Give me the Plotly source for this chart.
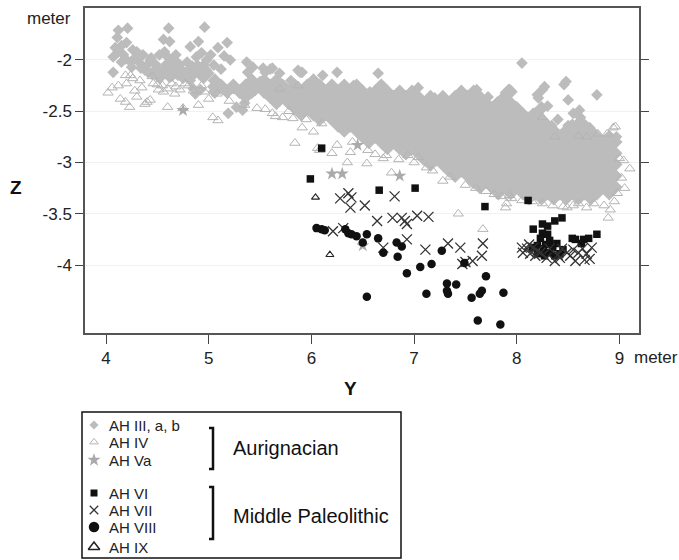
import plotly.graph_objects as go

W, H = 679, 560

# ------------------------------------------------------------------ data
# Dense AH III mass: Y of each column, Z values in it
BAND_COL_Y = [5.06, 5.12, 5.18, 5.24, 5.30, 5.36, 5.42, 5.48, 5.54, 5.60,
              5.66, 5.72, 5.78, 5.84,
              5.90, 5.96, 6.02, 6.08, 6.14, 6.20, 6.26, 6.32, 6.38, 6.44,
              6.50, 6.56, 6.62, 6.68, 6.74, 6.80, 6.86, 6.92, 6.98, 7.04,
              7.10, 7.16, 7.22, 7.28, 7.34, 7.40, 7.46, 7.52, 7.58, 7.64,
              7.70, 7.76, 7.82, 7.88, 7.94, 8.00, 8.06, 8.12, 8.18, 8.24,
              8.30, 8.36, 8.42, 8.48, 8.54, 8.60, 8.66, 8.72, 8.78, 8.84,
              8.90, 8.96]
BAND_COL_Z = [
    [-2.20, -2.31],
    [-2.25],
    [-2.31],
    [-2.25],
    [-2.31],
    [-2.25, -2.36],
    [-2.20, -2.31],
    [-2.25],
    [-2.20, -2.31],
    [-2.25, -2.36],
    [-2.20, -2.31, -2.42],
    [-2.25, -2.36],
    [-2.31, -2.42],
    [-2.25, -2.36, -2.47],
    [-2.31, -2.42, -2.53],
    [-2.25, -2.36, -2.47],
    [-2.20, -2.31, -2.42, -2.53],
    [-2.25, -2.36, -2.47, -2.58],
    [-2.31, -2.42, -2.53],
    [-2.25, -2.36, -2.47, -2.58],
    [-2.31, -2.42, -2.53, -2.64],
    [-2.25, -2.36, -2.47, -2.58, -2.69],
    [-2.31, -2.42, -2.53, -2.64],
    [-2.25, -2.36, -2.47, -2.58, -2.69],
    [-2.31, -2.42, -2.53, -2.64, -2.75],
    [-2.36, -2.47, -2.58, -2.69, -2.80],
    [-2.31, -2.42, -2.53, -2.64, -2.75],
    [-2.25, -2.36, -2.47, -2.58, -2.69, -2.80],
    [-2.31, -2.42, -2.53, -2.64, -2.75, -2.86],
    [-2.36, -2.47, -2.58, -2.69, -2.80],
    [-2.31, -2.42, -2.53, -2.64, -2.75, -2.86],
    [-2.36, -2.47, -2.58, -2.69, -2.80, -2.91],
    [-2.31, -2.42, -2.53, -2.64, -2.75, -2.86],
    [-2.36, -2.47, -2.58, -2.69, -2.80, -2.91],
    [-2.42, -2.53, -2.64, -2.75, -2.86, -2.97],
    [-2.36, -2.47, -2.58, -2.69, -2.80, -2.91, -3.02],
    [-2.42, -2.53, -2.64, -2.75, -2.86, -2.97],
    [-2.36, -2.47, -2.58, -2.69, -2.80, -2.91, -3.02],
    [-2.42, -2.53, -2.64, -2.75, -2.86, -2.97, -3.08],
    [-2.36, -2.47, -2.58, -2.69, -2.80, -2.91, -3.02, -3.13],
    [-2.31, -2.42, -2.53, -2.64, -2.75, -2.86, -2.97, -3.08],
    [-2.36, -2.47, -2.58, -2.69, -2.80, -2.91, -3.02, -3.13],
    [-2.31, -2.42, -2.53, -2.64, -2.75, -2.86, -2.97, -3.08, -3.19],
    [-2.36, -2.47, -2.58, -2.69, -2.80, -2.91, -3.02, -3.13, -3.24],
    [-2.42, -2.53, -2.64, -2.75, -2.86, -2.97, -3.08, -3.19],
    [-2.47, -2.58, -2.69, -2.80, -2.91, -3.02, -3.13, -3.24],
    [-2.42, -2.53, -2.64, -2.75, -2.86, -2.97, -3.08, -3.19, -3.30],
    [-2.36, -2.47, -2.58, -2.69, -2.80, -2.91, -3.02, -3.13, -3.24],
    [-2.31, -2.42, -2.53, -2.64, -2.75, -2.86, -2.97, -3.08, -3.19, -3.30],
    [-2.47, -2.58, -2.69, -2.80, -2.91, -3.02, -3.13, -3.24],
    [-2.53, -2.64, -2.75, -2.86, -2.97, -3.08, -3.19, -3.30],
    [-2.58, -2.69, -2.80, -2.91, -3.02, -3.13, -3.24, -3.35],
    [-2.53, -2.64, -2.75, -2.86, -2.97, -3.08, -3.19, -3.30],
    [-2.47, -2.58, -2.69, -2.80, -2.91, -3.02, -3.13, -3.24, -3.35],
    [-2.64, -2.75, -2.86, -2.97, -3.08, -3.19, -3.30],
    [-2.69, -2.80, -2.91, -3.02, -3.13, -3.24, -3.35],
    [-2.75, -2.86, -2.97, -3.08, -3.19, -3.30],
    [-2.69, -2.80, -2.91, -3.02, -3.13, -3.24, -3.35],
    [-2.64, -2.75, -2.86, -2.97, -3.08, -3.19, -3.30],
    [-2.69, -2.80, -2.91, -3.02, -3.13, -3.24, -3.35],
    [-2.64, -2.75, -2.86, -2.97, -3.08, -3.19, -3.30],
    [-2.69, -2.80, -2.91, -3.02, -3.13, -3.24, -3.35],
    [-2.75, -2.86, -2.97, -3.08, -3.19, -3.30],
    [-2.80, -2.91, -3.02, -3.13, -3.24],
    [-2.75, -2.86, -2.97, -3.08, -3.19, -3.30],
    [-2.80, -2.91, -3.02, -3.13, -3.24],
]

# AH III scattered finds (Y, Z)
AH3_PTS = [
    (4.12, -1.71), (4.21, -1.69), (4.61, -1.69), (4.96, -1.68), (4.11, -1.78),
    (4.56, -1.80), (4.62, -1.82), (4.20, -1.83), (4.90, -1.82), (4.82, -1.87),
    (4.09, -1.88), (4.26, -1.90), (5.09, -1.88), (5.18, -1.83), (4.57, -1.92),
    (4.93, -1.93), (4.07, -1.97), (4.17, -1.95), (4.36, -1.95), (4.43, -2.00),
    (4.33, -2.03), (5.21, -2.00), (5.37, -2.02), (4.62, -2.03), (4.72, -2.05),
    (4.79, -2.02), (4.89, -2.05), (4.98, -2.10), (4.50, -2.08), (4.56, -2.10),
    (4.65, -2.12), (4.75, -2.12), (4.07, -2.12), (5.53, -2.08), (5.62, -2.08),
    (5.38, -2.12), (5.87, -2.10), (5.43, -2.20), (5.69, -2.13), (4.82, -2.20),
    (4.92, -2.15), (4.62, -2.17), (4.55, -2.15), (4.87, -2.33), (4.85, -2.28),
    (4.92, -2.29), (4.40, -2.05), (4.47, -2.10), (4.68, -2.08), (4.70, -2.15),
    (4.80, -2.10), (4.85, -2.15), (4.95, -2.05), (4.38, -2.10), (4.45, -2.14),
    (4.58, -2.05), (4.66, -2.00), (4.28, -1.98), (4.24, -2.02), (4.15, -2.02),
    (4.30, -1.92), (4.75, -2.18), (4.52, -2.18), (4.88, -1.97), (4.98, -2.00),
    (5.02, -1.95), (4.34, -2.08), (4.41, -2.12), (4.48, -2.04), (4.53, -2.13),
    (4.60, -2.09), (4.64, -2.16), (4.70, -2.03), (4.73, -2.09), (4.77, -2.15),
    (4.84, -2.06), (4.87, -2.11), (4.93, -2.09), (4.95, -2.18), (5.00, -2.13),
    (4.44, -1.98), (4.25, -2.07), (4.19, -1.99), (4.12, -1.92), (4.15, -1.86),
    (4.60, -1.97), (4.68, -1.95), (4.52, -1.95), (5.12, -2.09), (5.05, -2.05),
    (5.15, -1.96),
    (5.04, -2.26), (5.14, -2.29), (5.24, -2.28), (5.33, -2.28), (5.43, -2.25),
    (5.50, -2.21), (5.57, -2.26), (5.37, -2.36), (5.63, -2.33), (5.72, -2.36),
    (5.79, -2.39), (5.86, -2.46), (5.92, -2.49), (5.82, -2.29), (5.95, -2.26),
    (5.27, -2.46), (5.19, -2.52), (5.33, -2.49), (5.69, -2.34), (5.76, -2.39),
    (5.82, -2.44), (5.89, -2.12), (6.03, -2.21), (5.55, -2.12), (5.60, -2.09),
    (5.43, -2.07), (5.35, -2.42), (5.45, -2.30), (5.66, -2.27), (5.75, -2.28),
    (5.88, -2.35), (5.80, -2.20),
    (5.91, -2.12), (6.11, -2.15), (6.25, -2.12), (6.65, -2.13), (6.05, -2.22),
    (6.41, -2.25), (6.57, -2.31), (6.69, -2.25), (6.84, -2.32), (7.04, -2.27),
    (7.20, -2.37), (7.47, -2.33), (7.61, -2.29), (7.72, -2.36), (7.81, -2.41),
    (7.89, -2.32), (7.93, -2.29), (8.05, -2.03), (8.20, -2.34), (8.05, -2.54),
    (8.16, -2.52), (7.71, -2.44), (7.87, -2.49),
    (8.48, -2.21), (8.46, -2.24), (8.25, -2.29), (8.21, -2.37), (8.50, -2.39),
    (8.78, -2.34), (7.92, -2.29), (8.61, -2.49), (8.03, -2.54), (8.15, -2.56),
    (8.34, -2.64), (8.50, -2.64), (8.60, -2.61), (8.71, -2.66), (8.97, -2.75),
    (8.00, -2.67), (7.84, -2.46), (8.30, -2.45), (8.55, -2.52), (8.62, -2.56),
    (8.40, -2.58), (8.27, -2.26),
]

# AH IV (Y, Z)
AH4_PTS = [
    (4.02, -2.32), (4.12, -2.25), (4.19, -2.15), (4.24, -2.15), (4.26, -2.18),
    (4.33, -2.20), (4.20, -2.23), (4.19, -2.41), (4.23, -2.46), (4.30, -2.36),
    (4.40, -2.41), (4.43, -2.39), (4.38, -2.43), (4.45, -2.16), (4.46, -2.23),
    (4.51, -2.29), (4.56, -2.31), (4.64, -2.23), (4.67, -2.33), (4.72, -2.29),
    (4.77, -2.23), (4.80, -2.25), (4.60, -2.46), (4.75, -2.47), (4.90, -2.44),
    (4.93, -2.25), (4.96, -2.31), (5.08, -2.33), (5.04, -2.56), (5.09, -2.59),
    (5.35, -2.44), (5.47, -2.47), (5.62, -2.52), (5.69, -2.28), (5.72, -2.56),
    (5.82, -2.57), (5.87, -2.25), (5.91, -2.66), (6.02, -2.70), (5.84, -2.81),
    (6.06, -2.86), (4.06, -2.27), (4.28, -2.30), (4.50, -2.24), (4.55, -2.25),
    (4.60, -2.28), (4.68, -2.26), (4.85, -2.30), (4.35, -2.27), (4.14, -2.38),
    (5.00, -2.38), (5.20, -2.40), (5.55, -2.48), (5.78, -2.50), (5.95, -2.58),
    (6.10, -2.62), (5.65, -2.55),
    (6.20, -2.91), (6.38, -2.90), (6.35, -3.00), (6.54, -3.01), (6.70, -2.96),
    (6.78, -3.10), (6.73, -2.93), (6.94, -2.93), (7.04, -2.95), (7.28, -3.18),
    (7.43, -3.50), (7.67, -3.65), (7.89, -3.44), (7.90, -3.40), (7.93, -3.32),
    (6.08, -2.88), (6.25, -2.83), (6.40, -2.80), (6.55, -2.88), (6.62, -2.92),
    (6.85, -2.97), (7.00, -3.00), (7.12, -3.05), (7.18, -3.08), (7.35, -3.14),
    (7.50, -3.22), (7.60, -3.25), (7.70, -3.28), (7.78, -3.31), (7.85, -3.33),
    (7.95, -3.35), (8.05, -3.37), (8.15, -3.38), (8.25, -3.40), (8.35, -3.42),
    (8.45, -3.43), (8.55, -3.42), (8.49, -3.44), (8.68, -3.44), (8.60, -3.40),
    (8.75, -3.40), (8.89, -3.54), (8.91, -3.46), (8.85, -3.42), (8.95, -3.38),
    (9.04, -2.98), (9.10, -3.06), (9.00, -2.96), (8.96, -2.65), (8.88, -2.72),
    (8.79, -2.72), (8.68, -2.75), (8.60, -2.74), (8.37, -2.75), (8.25, -2.56),
    (8.94, -2.66), (9.02, -3.15), (9.05, -3.25), (8.98, -3.30),
]

# AH Va (Y, Z)
AH5A_PTS = [(4.75, -2.49), (6.45, -2.83), (6.20, -3.11), (6.30, -3.11),
            (6.86, -3.13), (6.50, -3.81)]

# AH VI (Y, Z)
AH6_PTS = [
    (6.10, -2.86), (5.99, -3.16), (6.66, -3.27), (7.01, -3.25), (7.69, -3.43),
    (8.11, -3.37), (8.16, -3.65), (8.25, -3.60), (8.30, -3.62), (8.37, -3.57),
    (8.44, -3.54), (8.25, -3.69), (8.23, -3.74), (8.20, -3.81), (8.32, -3.76),
    (8.39, -3.79), (8.26, -3.84), (8.32, -3.88), (8.27, -3.91), (8.37, -3.91),
    (8.42, -3.89), (8.35, -3.83), (8.54, -3.74), (8.57, -3.75), (8.65, -3.75),
    (8.70, -3.74), (8.78, -3.70), (8.63, -3.79), (8.20, -3.89), (8.15, -3.83),
    (8.28, -3.80), (8.45, -3.85), (8.30, -3.70),
]

# AH VII (Y, Z)
AH7_PTS = [
    (6.28, -3.35), (6.36, -3.30), (6.39, -3.34), (6.38, -3.44), (6.52, -3.42),
    (6.81, -3.33), (6.64, -3.57), (6.79, -3.54), (6.88, -3.54), (6.91, -3.57),
    (6.93, -3.60), (7.03, -3.52), (7.14, -3.53), (6.21, -3.67), (6.31, -3.64),
    (6.93, -3.75), (6.70, -3.83), (7.11, -3.85), (7.33, -3.79), (7.45, -3.83),
    (7.47, -3.99), (7.57, -3.96), (7.66, -3.91), (7.67, -3.79), (7.50, -3.97),
    (8.05, -3.83), (8.10, -3.84), (8.13, -3.89), (8.18, -3.91), (8.23, -3.88),
    (8.29, -3.93), (8.37, -3.96), (8.42, -3.93), (8.49, -3.88), (8.52, -3.91),
    (8.57, -3.96), (8.60, -3.88), (8.64, -3.84), (8.68, -3.89), (8.71, -3.94),
    (8.73, -3.83), (8.16, -3.83), (8.06, -3.88), (8.32, -3.84), (8.44, -3.84),
    (8.12, -3.80), (8.20, -3.86), (8.40, -3.90), (8.55, -3.85), (8.66, -3.95),
]

# AH VIII (Y, Z)
AH8_PTS = [
    (6.05, -3.64), (6.10, -3.65), (6.13, -3.66), (6.33, -3.65), (6.36, -3.69),
    (6.39, -3.70), (6.44, -3.72), (6.54, -3.70), (6.50, -3.78), (6.65, -3.74),
    (6.70, -3.88), (6.83, -3.78), (6.88, -3.82), (6.84, -3.92), (6.93, -4.08),
    (7.06, -4.02), (7.17, -3.99), (7.27, -3.86), (7.49, -3.98), (7.70, -4.11),
    (6.54, -4.31), (7.12, -4.28), (7.32, -4.18), (7.41, -4.19), (7.32, -4.25),
    (7.33, -4.28), (7.56, -4.32), (7.64, -4.28), (7.66, -4.25), (7.87, -4.27),
    (7.62, -4.54), (7.84, -4.58),
]

# AH IX (Y, Z)
AH9_PTS = [(6.04, -3.34), (6.18, -3.90)]

X_TICKS = [4, 5, 6, 7, 8, 9]
Y_TICKS = [-2, -2.5, -3, -3.5, -4]
Y_TICK_TEXT = ["-2", "-2.5", "-3", "-3.5", "-4"]

LEGEND_LABELS = ["AH III, a, b", "AH IV", "AH Va", "AH VI", "AH VII", "AH VIII", "AH IX"]
GROUP_LABELS = ["Aurignacian", "Middle Paleolithic"]

# ------------------------------------------------------------------ styles
GRAY_D = "#bcbcbc"
GRAY_T = "#b4b4b4"
GRAY_S = "#aaaaaa"
FONT = "Liberation Sans, Arial, sans-serif"

STYLES = [
    dict(symbol="diamond", size=9, color=GRAY_D, line=dict(width=0)),
    dict(symbol="triangle-up-open", size=9, color=GRAY_T, line=dict(width=1, color=GRAY_T)),
    dict(symbol="star", size=10, color=GRAY_S, line=dict(width=0)),
    dict(symbol="square", size=7.5, color="#111111", line=dict(width=0)),
    dict(symbol="x-thin-open", size=10, color="#333333", line=dict(width=1.3, color="#333333")),
    dict(symbol="circle", size=8.5, color="#111111", line=dict(width=0)),
    dict(symbol="triangle-up-open", size=7, color="#222222", line=dict(width=1.1, color="#222222")),
]
BAND_STYLE = dict(symbol="diamond", size=11, color=GRAY_D, line=dict(width=0))


def unzip(pts):
    return [p[0] for p in pts], [p[1] for p in pts]


band_y, band_z = [], []
for yv, zs in zip(BAND_COL_Y, BAND_COL_Z):
    for zv in zs:
        band_y.append(yv)
        band_z.append(zv)

fig = go.Figure()

fig.add_trace(go.Scatter(x=band_y, y=band_z, mode="markers", marker=BAND_STYLE,
                         showlegend=False, hoverinfo="skip", xaxis="x", yaxis="y"))

series = [
    (*unzip(AH3_PTS), 0),
    (*unzip(AH4_PTS), 1),
    (*unzip(AH5A_PTS), 2),
    (*unzip(AH6_PTS), 3),
    (*unzip(AH7_PTS), 4),
    (*unzip(AH8_PTS), 5),
    (*unzip(AH9_PTS), 6),
]
for xs, ys, k in series:
    fig.add_trace(go.Scatter(x=xs, y=ys, mode="markers", marker=STYLES[k],
                             showlegend=False, hoverinfo="skip",
                             xaxis="x", yaxis="y"))

# ------------------------------------------------------------------ custom legend (pixel overlay)
LEG_ROW_Y = [425, 442, 460, 493, 510, 527, 547]
LEG_MARK_X = 94
LEG_TEXT_X = 107
legend_sizes = [7, 7.5, 10, 7, 8.5, 10.5, 10]
for i, lab in enumerate(LEGEND_LABELS):
    st = dict(STYLES[i])
    st["size"] = legend_sizes[i]
    if i == 6:
        st["line"] = dict(width=1.5, color="#222222")
    fig.add_trace(go.Scatter(x=[LEG_MARK_X], y=[LEG_ROW_Y[i]], mode="markers",
                             marker=st, showlegend=False, hoverinfo="skip",
                             xaxis="x2", yaxis="y2"))

annotations = []
for i, lab in enumerate(LEGEND_LABELS):
    annotations.append(dict(x=LEG_TEXT_X, y=LEG_ROW_Y[i], xref="x2", yref="y2",
                            text=lab, showarrow=False, xanchor="left", yanchor="middle",
                            font=dict(family=FONT, size=15, color="#222222")))
annotations.append(dict(x=231, y=448, xref="x2", yref="y2", text=GROUP_LABELS[0],
                        showarrow=False, xanchor="left", yanchor="middle",
                        font=dict(family=FONT, size=20, color="#111111")))
annotations.append(dict(x=231, y=516, xref="x2", yref="y2", text=GROUP_LABELS[1],
                        showarrow=False, xanchor="left", yanchor="middle",
                        font=dict(family=FONT, size=20, color="#111111")))
# axis captions
annotations += [
    dict(x=49, y=18, xref="x2", yref="y2", text="meter", showarrow=False,
         xanchor="center", yanchor="middle", font=dict(family=FONT, size=17, color="#222222")),
    dict(x=632, y=357, xref="x2", yref="y2", text="meter", showarrow=False,
         xanchor="left", yanchor="middle", font=dict(family=FONT, size=17, color="#222222")),
    dict(x=350, y=388, xref="x2", yref="y2", text="<b>Y</b>", showarrow=False,
         xanchor="center", yanchor="middle", font=dict(family=FONT, size=19, color="#111111")),
    dict(x=16, y=187, xref="x2", yref="y2", text="<b>Z</b>", showarrow=False,
         xanchor="center", yanchor="middle", font=dict(family=FONT, size=19, color="#111111")),
]

shapes = [
    dict(type="rect", xref="x2", yref="y2", x0=82, x1=401, y0=412, y1=558,
         line=dict(color="#111111", width=1.5)),
    dict(type="path", xref="x2", yref="y2", path="M 209,428 L 213,428 L 213,469 L 209,469",
         line=dict(color="#111111", width=2.5)),
    dict(type="path", xref="x2", yref="y2", path="M 209,487 L 213,487 L 213,539 L 209,539",
         line=dict(color="#111111", width=2.5)),
]

fig.update_layout(
    width=W, height=H,
    margin=dict(l=0, r=0, t=0, b=0),
    paper_bgcolor="white", plot_bgcolor="rgba(0,0,0,0)",
    showlegend=False,
    font=dict(family=FONT, size=17, color="#222222"),
    xaxis=dict(domain=[85 / W, 639 / W], range=[3.7955, 9.19],
               tickvals=X_TICKS, ticktext=[str(t) for t in X_TICKS],
               ticks="outside", ticklen=9, tickwidth=1.3, tickcolor="#444444",
               showline=True, linecolor="#555555", linewidth=1.5, mirror=True,
               showgrid=False, zeroline=False, anchor="y",
               tickfont=dict(family=FONT, size=17, color="#222222")),
    yaxis=dict(domain=[1 - 333 / H, 1 - 8 / H], range=[-4.663, -1.493],
               tickvals=Y_TICKS, ticktext=Y_TICK_TEXT,
               ticks="outside", ticklen=8, tickwidth=1.3, tickcolor="#444444",
               showline=True, linecolor="#555555", linewidth=1.5, mirror="ticks",
               showgrid=True, gridcolor="#f1f1f1", gridwidth=1, zeroline=False,
               anchor="x", tickfont=dict(family=FONT, size=17, color="#222222")),
    xaxis2=dict(domain=[0, 1], range=[0, W], visible=False, anchor="y2", fixedrange=True),
    yaxis2=dict(domain=[0, 1], range=[H, 0], visible=False, anchor="x2", fixedrange=True),
    annotations=annotations,
    shapes=shapes,
)

fig.write_html("out.html", config={"displayModeBar": False},
               post_script="document.body.style.margin='0';document.body.style.overflow='hidden';")
